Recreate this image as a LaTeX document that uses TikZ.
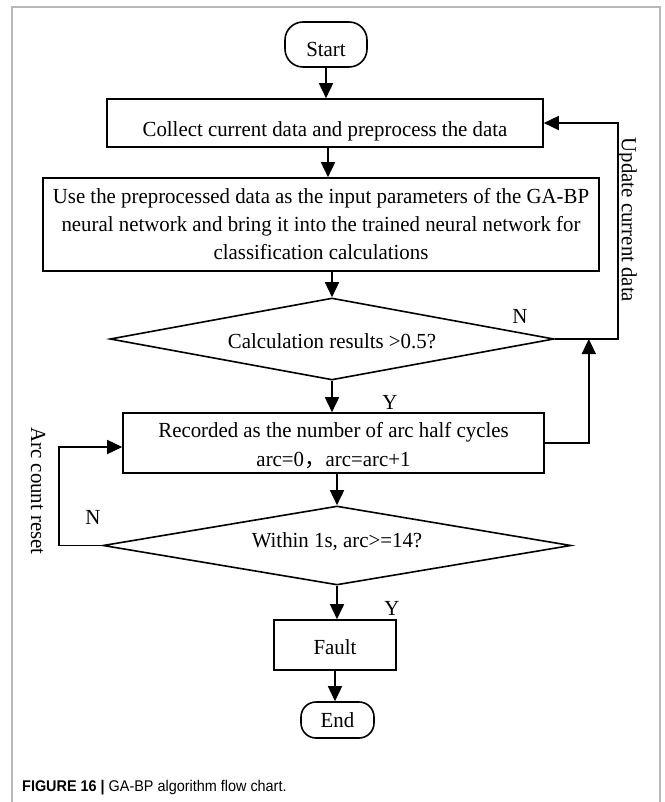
\documentclass[tikz,border=0pt]{standalone}
\usepackage{fontspec}
\setmainfont{Liberation Serif}
\newfontfamily\nodefont[FakeStretch=0.97]{Liberation Serif}
\newfontfamily\capfont[FakeStretch=0.93]{Liberation Sans}
\newfontfamily\cjkfont{Noto Sans CJK SC}
\usetikzlibrary{shapes.geometric,arrows.meta}
\begin{document}
\begin{tikzpicture}[x=1pt,y=-1pt,
  every node/.style={font=\nodefont\fontsize{21.5}{28}\selectfont, text=black},
  box/.style={draw, line width=1.6pt, inner sep=0pt, align=center},
  term/.style={box, rounded corners=18pt},
  dec/.style={draw, line width=1.6pt, shape=diamond, inner sep=0pt},
  arr/.style={line width=1.6pt, -{Triangle[length=15pt,width=14pt]}},
  lbl/.style={inner sep=0pt}
]
\useasboundingbox (0,0) rectangle (664,802);
\draw[black!28, line width=1.5pt] (12,7) rectangle (660,812);

\node[term, minimum width=82pt, minimum height=45pt, text height=25pt, text depth=0pt] (start) at (326,44.5) {Start};
\node[box, minimum width=436pt, minimum height=48pt, text height=28pt, text depth=0pt] (collect) at (325,123) {Collect current data and preprocess the data};
\node[box, minimum width=556pt, minimum height=93pt] (use) at (321,224.5) {Use the preprocessed data as the input parameters of the GA-BP\\neural network and bring it into the trained neural network for\\classification calculations};
\node[dec, aspect=5.4, minimum width=444pt, minimum height=82pt, text height=18pt, text depth=0pt] (d1) at (332,339) {Calculation results >0.5?};
\node[box, minimum width=421pt, minimum height=60pt, font=\nodefont\fontsize{21.5}{29}\selectfont] (rec) at (333.5,443) {\rule{0pt}{21pt}Recorded as the number of arc half cycles\\arc=0{\cjkfont ，}arc=arc+1};
\node[dec, aspect=5.9, minimum width=468pt, minimum height=79pt, text height=10pt, text depth=7pt] (d2) at (337,545.5) {Within 1s, arc>=14?};
\node[box, minimum width=122pt, minimum height=50pt, text height=18pt, text depth=0pt] (fault) at (335,645) {Fault};
\node[term, rounded corners=15pt, minimum width=73pt, minimum height=36pt, text height=14pt, text depth=0pt] (stop) at (337.5,720) {End};

\draw[arr] (start.south) -- (start.south |- collect.north);
\draw[arr] ([xshift=3pt]collect.south) -- ([xshift=3pt]collect.south |- use.north);
\draw[arr] (d1.north |- use.south) -- (d1.north);
\draw[arr] (d1.south) -- (d1.south |- rec.north);
\draw[arr] (d2.north |- rec.south) -- (d2.north);
\draw[arr] (d2.south) -- (d2.south |- fault.north);
\draw[arr] (fault.south) -- (fault.south |- stop.north);

\draw[arr] (d1.east) -- ++(63,0) |- (collect.east);
\draw[arr] (rec.east) -| ([xshift=34pt]d1.east);
\draw[arr] (d2.west) -- ++(-43,0) |- ([yshift=-4pt]rec.west);

\node[lbl] (n1) at (520,316) {N};
\node[lbl] (y1) at (390,402) {Y};
\node[lbl] (n2) at (93,517) {N};
\node[lbl] (y2) at (392,608) {Y};
\node[lbl, rotate=-90] (upd) at (627,220) {Update current data};
\node[lbl, rotate=-90] (acr) at (38,491) {Arc count reset};

\node[anchor=base west, inner sep=0pt, font=\capfont\fontsize{15.5}{19}\selectfont] (cap) at (22,791) {\textbf{FIGURE 16 |} GA-BP algorithm flow chart.};
\end{tikzpicture}
\end{document}
